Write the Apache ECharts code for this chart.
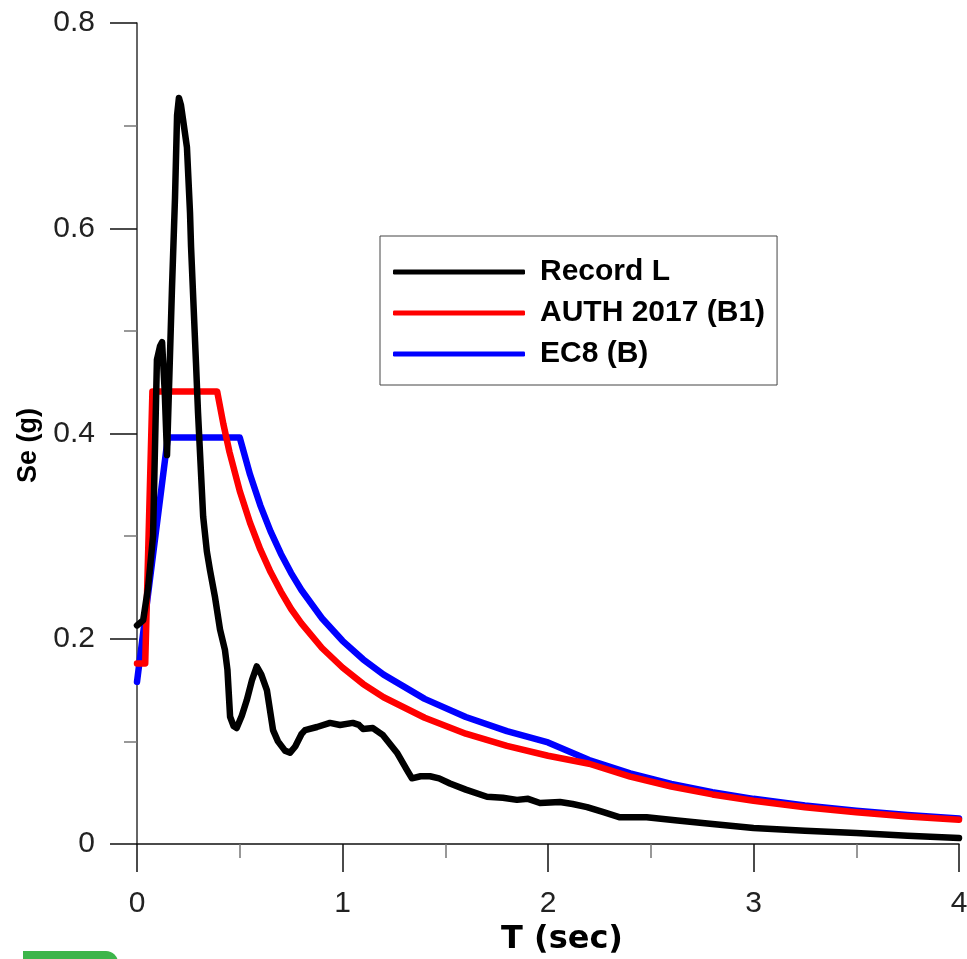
<!DOCTYPE html>
<html>
<head>
<meta charset="utf-8">
<script src="https://cdn.jsdelivr.net/npm/echarts@6/dist/echarts.min.js"></script>
<style>html,body{margin:0;padding:0;background:#fff;}#c{width:967px;height:959px;}</style>
</head>
<body>
<div id="c"></div>
<script>
// Record L (T in sec, Se in g)
var recordT = [0, 0.03, 0.054, 0.078, 0.097, 0.112, 0.122, 0.135, 0.146, 0.17, 0.185, 0.195, 0.204, 0.214, 0.224, 0.243, 0.258, 0.263, 0.287, 0.297, 0.322, 0.34, 0.355, 0.38, 0.404, 0.428, 0.44, 0.453, 0.47, 0.485, 0.51, 0.534, 0.56, 0.583, 0.605, 0.632, 0.662, 0.686, 0.72, 0.745, 0.77, 0.8, 0.818, 0.876, 0.939, 0.988, 1.05, 1.08, 1.10, 1.148, 1.197, 1.265, 1.314, 1.338, 1.38, 1.426, 1.47, 1.523, 1.6, 1.703, 1.78, 1.849, 1.903, 1.961, 2.058, 2.12, 2.19, 2.27, 2.35, 2.48, 2.63, 2.8, 3.0, 3.25, 3.5, 3.75, 4.0];
var recordSe = [0.213, 0.218, 0.25, 0.30, 0.472, 0.485, 0.489, 0.44, 0.379, 0.54, 0.63, 0.71, 0.727, 0.72, 0.706, 0.679, 0.615, 0.582, 0.469, 0.42, 0.319, 0.285, 0.267, 0.24, 0.209, 0.189, 0.17, 0.124, 0.115, 0.113, 0.125, 0.14, 0.16, 0.173, 0.165, 0.15, 0.111, 0.1, 0.091, 0.089, 0.095, 0.107, 0.111, 0.114, 0.118, 0.116, 0.118, 0.116, 0.112, 0.113, 0.106, 0.089, 0.072, 0.064, 0.066, 0.066, 0.064, 0.059, 0.053, 0.046, 0.045, 0.043, 0.044, 0.040, 0.041, 0.039, 0.036, 0.031, 0.026, 0.026, 0.023, 0.0195, 0.0156, 0.013, 0.0107, 0.008, 0.0058];

// AUTH 2017 (B1)
var authT = [0, 0.04, 0.075, 0.39, 0.42, 0.45, 0.5, 0.55, 0.6, 0.65, 0.7, 0.75, 0.8, 0.9, 1.0, 1.1, 1.2, 1.4, 1.6, 1.8, 2.0, 2.2, 2.4, 2.6, 2.8, 3.0, 3.25, 3.5, 3.75, 4.0];
var authSe = [0.176, 0.176, 0.441, 0.441, 0.4095, 0.382, 0.344, 0.313, 0.287, 0.265, 0.246, 0.229, 0.215, 0.191, 0.172, 0.156, 0.143, 0.123, 0.1075, 0.0956, 0.086, 0.0782, 0.0657, 0.056, 0.0483, 0.0421, 0.0358, 0.0309, 0.0269, 0.0237];

// EC8 (B)
var ec8T = [0, 0.15, 0.5, 0.55, 0.6, 0.65, 0.7, 0.75, 0.8, 0.9, 1.0, 1.1, 1.2, 1.4, 1.6, 1.8, 2.0, 2.2, 2.4, 2.6, 2.8, 3.0, 3.25, 3.5, 3.75, 4.0];
var ec8Se = [0.158, 0.396, 0.396, 0.36, 0.33, 0.3046, 0.2829, 0.264, 0.2475, 0.22, 0.198, 0.18, 0.165, 0.1414, 0.1238, 0.11, 0.099, 0.0818, 0.0688, 0.0586, 0.0505, 0.044, 0.0375, 0.0323, 0.0282, 0.02475];

var seriesNames = ['Record L', 'AUTH 2017 (B1)', 'EC8 (B)'];
var xTitle = 'T (sec)';
var yTitle = 'Se (g)';

function pairs(t, v) { return t.map(function (x, i) { return [x, v[i]]; }); }

var chart = echarts.init(document.getElementById('c'), null, { renderer: 'canvas' });
var labelFont = 'Liberation Sans, Arial, sans-serif';
chart.setOption({
  backgroundColor: '#fff',
  animation: false,
  grid: { left: 137, right: 8, top: 23, bottom: 115, containLabel: false, outerBoundsMode: 'none' },
  legend: {
    data: seriesNames,
    orient: 'vertical',
    left: 380, top: 236,
    padding: [21, 12, 16, 13],
    itemGap: 11,
    itemWidth: 132,
    itemHeight: 5,
    icon: 'roundRect',
    borderColor: '#444',
    borderWidth: 1,
    backgroundColor: '#fff',
    textStyle: { fontFamily: labelFont, fontWeight: 'bold', fontSize: 30, color: '#000', padding: [0, 0, 0, 10], lineHeight: 30 }
  },
  xAxis: {
    type: 'value', min: 0, max: 4, interval: 1,
    name: xTitle, nameLocation: 'middle', nameGap: 80,
    nameTextStyle: { fontFamily: 'DejaVu Sans, sans-serif', fontWeight: 'bold', fontSize: 32, color: '#000', padding: [0, 0, 0, 28] },
    axisLine: { show: true, onZero: false, lineStyle: { color: '#111', width: 1.5 } },
    axisTick: { show: true, inside: false, length: 28, lineStyle: { color: '#111', width: 1.5 } },
    minorTick: { show: true, splitNumber: 2, length: 14, lineStyle: { color: '#777', width: 1.5 } },
    axisLabel: { fontFamily: labelFont, fontSize: 30, color: '#222', margin: 45 },
    splitLine: { show: false }
  },
  yAxis: {
    type: 'value', min: 0, max: 0.8, interval: 0.2,
    name: yTitle, nameLocation: 'middle', nameGap: 90, nameRotate: 90,
    nameTextStyle: { fontFamily: labelFont, fontWeight: 'bold', fontSize: 27, color: '#000', padding: [0, 24, 0, 0] },
    axisLine: { show: true, onZero: false, lineStyle: { color: '#333', width: 1.5 } },
    axisTick: { show: true, inside: false, length: 27, lineStyle: { color: '#111', width: 1.5 } },
    minorTick: { show: true, splitNumber: 2, length: 13, lineStyle: { color: '#777', width: 1.5 } },
    axisLabel: { fontFamily: labelFont, fontSize: 30, color: '#222', margin: 42 },
    splitLine: { show: false }
  },
  series: [
    { name: seriesNames[2], type: 'line', data: pairs(ec8T, ec8Se), showSymbol: false, symbol: 'none', z: 2,
      lineStyle: { color: '#0000ff', width: 6.5, join: 'round', cap: 'round' }, itemStyle: { color: '#0000ff' } },
    { name: seriesNames[1], type: 'line', data: pairs(authT, authSe), showSymbol: false, symbol: 'none', z: 3,
      lineStyle: { color: '#ff0000', width: 6.5, join: 'round', cap: 'round' }, itemStyle: { color: '#ff0000' } },
    { name: seriesNames[0], type: 'line', data: pairs(recordT, recordSe), showSymbol: false, symbol: 'none', z: 4,
      lineStyle: { color: '#000000', width: 6.5, join: 'round', cap: 'round' }, itemStyle: { color: '#000000' } }
  ],
  graphic: [
    { type: 'rect', left: 23, top: 951, shape: { width: 95, height: 12, r: [0, 12, 0, 0] }, style: { fill: '#3db54a' }, z: 10 }
  ]
});
</script>
</body>
</html>
